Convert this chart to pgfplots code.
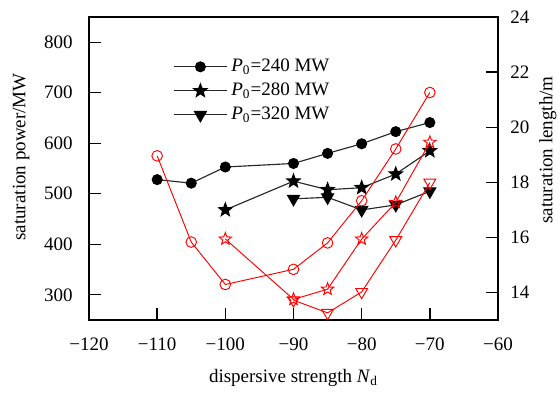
\documentclass[border=0pt]{standalone}
\usepackage{fontspec}
\setmainfont{Liberation Serif}
\usepackage{pgfplots}
\pgfplotsset{compat=1.18}
\definecolor{myred}{RGB}{255,0,0}
\definecolor{dline}{RGB}{40,40,40}
\pgfdeclareplotmark{fstar}{%
  \pgfpathmoveto{\pgfpointpolar{90}{\pgfplotmarksize}}%
  \pgfpathlineto{\pgfpointpolar{126}{0.42\pgfplotmarksize}}%
  \pgfpathlineto{\pgfpointpolar{162}{\pgfplotmarksize}}%
  \pgfpathlineto{\pgfpointpolar{198}{0.42\pgfplotmarksize}}%
  \pgfpathlineto{\pgfpointpolar{234}{\pgfplotmarksize}}%
  \pgfpathlineto{\pgfpointpolar{270}{0.42\pgfplotmarksize}}%
  \pgfpathlineto{\pgfpointpolar{306}{\pgfplotmarksize}}%
  \pgfpathlineto{\pgfpointpolar{342}{0.42\pgfplotmarksize}}%
  \pgfpathlineto{\pgfpointpolar{18}{\pgfplotmarksize}}%
  \pgfpathlineto{\pgfpointpolar{54}{0.42\pgfplotmarksize}}%
  \pgfpathclose
  \pgfusepathqfillstroke
}
\pgfdeclareplotmark{ostar}{%
  \pgfpathmoveto{\pgfpointpolar{90}{\pgfplotmarksize}}%
  \pgfpathlineto{\pgfpointpolar{126}{0.42\pgfplotmarksize}}%
  \pgfpathlineto{\pgfpointpolar{162}{\pgfplotmarksize}}%
  \pgfpathlineto{\pgfpointpolar{198}{0.42\pgfplotmarksize}}%
  \pgfpathlineto{\pgfpointpolar{234}{\pgfplotmarksize}}%
  \pgfpathlineto{\pgfpointpolar{270}{0.42\pgfplotmarksize}}%
  \pgfpathlineto{\pgfpointpolar{306}{\pgfplotmarksize}}%
  \pgfpathlineto{\pgfpointpolar{342}{0.42\pgfplotmarksize}}%
  \pgfpathlineto{\pgfpointpolar{18}{\pgfplotmarksize}}%
  \pgfpathlineto{\pgfpointpolar{54}{0.42\pgfplotmarksize}}%
  \pgfpathclose
  \pgfusepathqstroke
}
\begin{document}
\begin{tikzpicture}
\begin{axis}[
  scale only axis, width=215.3pt, height=159.5pt,
  xmin=-120, xmax=-60, ymin=250, ymax=850,
  xtick={-120,-110,...,-60},
  xticklabels={−120,−110,−100,−90,−80,−70,−60},
  ytick={300,400,...,800},
  xtick pos=bottom, ytick pos=left,
  tick align=inside, major tick length=6.5pt,
  tick style={line width=0.7pt, black},
  axis line style={line width=0.8pt},
  /pgf/number format/assume math mode=true,
  xticklabel style={anchor=center, yshift=-12.6pt},
  yticklabel style={anchor=east, inner sep=0pt, xshift=-8.4pt},
  xlabel={dispersive strength \textit{N}\textsubscript{d}},
  ylabel={saturation power/MW},
  xlabel style={at={(axis description cs:0.5,0)}, anchor=center, yshift=-30.5pt},
  ylabel style={at={(axis description cs:-0.166,0.538)}, anchor=center},
  legend style={at={(0.205,0.875)}, anchor=north west, draw=none, fill=none, inner sep=0pt,
    row sep=0.5pt, font=\normalsize},
  legend cell align=left,
  legend image code/.code={\draw[mark repeat=2,mark phase=2] plot coordinates {(0pt,0pt)(14pt,0pt)(28pt,0pt)};},
]
\addplot[dline, line width=0.6pt, mark=*, mark size=2.6pt, mark options={fill=black, draw=black}] coordinates {
 (-110,528) (-105,521) (-100,553) (-90,560) (-85,580) (-80,599) (-75,623) (-70,641)};
\addlegendentry{\textit{P}\textsubscript{0}=240 MW}
\addplot[dline, line width=0.6pt, mark=fstar, mark size=3.6pt, mark options={fill=black, draw=black}] coordinates {
 (-100,468) (-90,525) (-85,508) (-80,512) (-75,539) (-70,585)};
\addlegendentry{\textit{P}\textsubscript{0}=280 MW}
\addplot[dline, line width=0.6pt, mark=triangle*, mark size=3.6pt, mark options={fill=black, draw=black, rotate=180}] coordinates {
 (-90,490) (-85,493) (-80,468) (-75,478) (-70,505)};
\addlegendentry{\textit{P}\textsubscript{0}=320 MW}
\end{axis}
\begin{axis}[
  scale only axis, width=215.3pt, height=159.5pt,
  xmin=-120, xmax=-60, ymin=13, ymax=24,
  axis x line=none, axis y line*=right,
  ytick={14,16,...,24},
  tick align=inside, major tick length=6.5pt,
  tick style={line width=0.7pt, black},
  axis line style={line width=0.8pt},
  /pgf/number format/assume math mode=true,
  yticklabel style={anchor=west, inner sep=0pt, xshift=6.3pt},
  ylabel={saturation length/m},
  ylabel style={at={(axis description cs:1.122,0.561)}, anchor=center},
]
\addplot[myred, line width=0.5pt, mark=o, mark size=2.8pt, mark options={solid}] coordinates {
 (-110,18.96) (-105,15.83) (-100,14.29) (-90,14.84) (-85,15.80) (-80,17.33) (-75,19.21) (-70,21.26)};
\addplot[myred, line width=0.5pt, mark=ostar, mark size=3.4pt] coordinates {
 (-100,15.94) (-90,13.75) (-85,14.12) (-80,15.94) (-75,17.27) (-70,19.45)};
\addplot[myred, line width=0.5pt, mark=triangle, mark size=3.6pt, mark options={rotate=180}] coordinates {
 (-90,13.72) (-85,13.26) (-80,14.02) (-75,15.90) (-70,17.99)};
\end{axis}
\pgfresetboundingbox
\path[use as bounding box] ([xshift=-46.84pt,yshift=-37.9pt]current axis.south west) rectangle ([xshift=32.63pt,yshift=8.95pt]current axis.north east);
\end{tikzpicture}
\end{document}
